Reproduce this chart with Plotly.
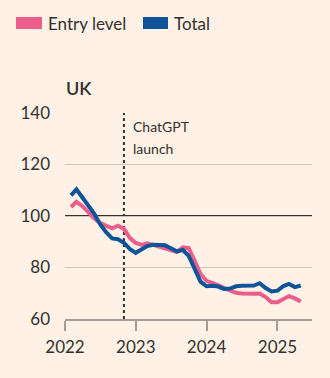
import plotly.graph_objects as go
import pandas as pd

dates = pd.date_range("2022-02-01", "2025-05-01", freq="MS")
entry_level = [103.5, 105.5, 103.8, 101.5, 99.0, 97.3, 96.3, 95.2, 96.2, 95.0, 91.5,
               89.5, 88.8, 89.4, 88.8, 88.2, 87.5, 86.7, 86.0, 87.8, 87.5, 82.5, 77.5,
               74.8, 74.0, 73.2, 72.0, 71.0, 70.2, 69.9, 69.7, 69.8, 69.9, 68.5, 66.5,
               66.5, 67.8, 68.9, 68.0, 66.8]
total = [108.0, 110.3, 107.2, 104.3, 100.8, 96.8, 93.7, 91.3, 91.0, 89.6, 87.2,
         85.7, 87.0, 88.3, 88.8, 88.8, 88.6, 87.5, 86.3, 86.8, 84.5, 79.5, 74.5,
         72.7, 72.9, 72.6, 71.7, 71.8, 72.7, 72.9, 72.9, 73.0, 73.9, 72.0, 70.7,
         71.0, 72.8, 73.6, 72.4, 73.0]
tick_dates = ["2022-01-01", "2023-01-01", "2024-01-01", "2025-01-01"]
tick_labels = ["2022", "2023", "2024", "2025"]
y_ticks = [60, 80, 100, 120, 140]
chatgpt_date = "2022-11-01"

BG = "#FFF1E5"
PINK = "#EB5E8C"
BLUE = "#0F5499"
TXT = "#33302E"
GRID = "#CEC3B8"
FONT = "Lato"

fig = go.Figure()
fig.add_trace(go.Scatter(x=dates, y=entry_level, mode="lines", name="Entry level",
                         line=dict(color=PINK, width=4), showlegend=False))
fig.add_trace(go.Scatter(x=dates, y=total, mode="lines", name="Total",
                         line=dict(color=BLUE, width=4), showlegend=False))

# reference lines
fig.add_shape(type="line", xref="paper", yref="y", x0=0, x1=1, y0=100, y1=100,
              line=dict(color=TXT, width=2), layer="below")
fig.add_shape(type="line", xref="x", yref="y", x0=chatgpt_date, x1=chatgpt_date,
              y0=60, y1=140, line=dict(color=TXT, width=2, dash="dot"), layer="below")

W, H = 330, 378
L, R, T, B = 65, 18, 113, 59
pw, ph = W - L - R, H - T - B

def px(x):
    return (x - L) / pw

def py(y):
    return (H - B - y) / ph

# legend swatches
fig.add_shape(type="rect", xref="paper", yref="paper", x0=px(16), x1=px(42),
              y0=py(29), y1=py(17), fillcolor=PINK, line=dict(width=0))
fig.add_shape(type="rect", xref="paper", yref="paper", x0=px(143), x1=px(168),
              y0=py(29), y1=py(17), fillcolor=BLUE, line=dict(width=0))
fig.add_annotation(xref="paper", yref="paper", x=px(46), y=py(23), text="Entry level",
                   showarrow=False, xanchor="left", yanchor="middle",
                   font=dict(size=17, color=TXT, family=FONT))
fig.add_annotation(xref="paper", yref="paper", x=px(172), y=py(23), text="Total",
                   showarrow=False, xanchor="left", yanchor="middle",
                   font=dict(size=17, color=TXT, family=FONT))
fig.add_annotation(xref="paper", yref="paper", x=px(64), y=py(88), text="UK",
                   showarrow=False, xanchor="left", yanchor="middle",
                   font=dict(size=18, color=TXT, family=FONT + " Semibold, " + FONT))
fig.add_annotation(xref="paper", yref="paper", x=px(131), y=py(126), text="ChatGPT",
                   showarrow=False, xanchor="left", yanchor="middle",
                   font=dict(size=14, color=TXT, family=FONT))
fig.add_annotation(xref="paper", yref="paper", x=px(131), y=py(148), text="launch",
                   showarrow=False, xanchor="left", yanchor="middle",
                   font=dict(size=14, color=TXT, family=FONT))

fig.update_layout(
    width=W, height=H, margin=dict(l=L, r=R, t=T, b=B),
    paper_bgcolor=BG, plot_bgcolor=BG,
    font=dict(family=FONT, color=TXT, size=17),
    xaxis=dict(type="date", range=["2022-01-01", "2025-06-28"],
               tickvals=tick_dates, ticktext=tick_labels,
               showgrid=False, zeroline=False, ticks="outside", ticklen=10,
               tickcolor="#A59D95", tickwidth=2, showline=True, linecolor="#A59D95",
               linewidth=2, tickfont=dict(size=17, color=TXT), ticklabelstandoff=2),
    yaxis=dict(range=[60, 140], tickvals=y_ticks, showgrid=True, gridcolor=GRID,
               gridwidth=1, zeroline=False, ticks="", showline=False,
               tickfont=dict(size=17, color=TXT), ticklabelstandoff=14),
)

fig.write_html("out.html")
